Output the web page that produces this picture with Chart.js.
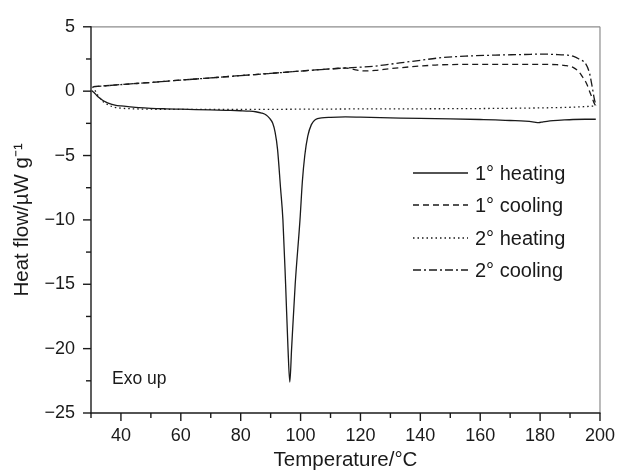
<!DOCTYPE html>
<html>
<head>
<meta charset="utf-8">
<script src="https://cdn.jsdelivr.net/npm/chart.js@4/dist/chart.umd.min.js"></script>
<style>
html,body{margin:0;padding:0;background:#fff;}
#wrap{width:627px;height:473px;position:relative;}
</style>
</head>
<body>
<div id="wrap"><canvas id="c" width="627" height="473"></canvas></div>
<script>
// ---- data ----
const xTicks = [30,40,50,60,70,80,90,100,110,120,130,140,150,160,170,180,190,200];
const yTicks = [5,0,-5,-10,-15,-20,-25];
const seriesNames = ['1° heating','1° cooling','2° heating','2° cooling'];

const heat1T = [30.2,31,32,33,34,35,36,38,40,43,46,50,55,60,65,70,75,80,83,85,87,88.5,89.6,90.7,91.5,92.3,93.3,94.1,95,95.8,96.4,97,98.2,99.8,100.6,101.4,102.4,103.6,105,107,110,115,120,130,140,150,160,165,170,175,178,179.5,181,183.3,187,191,195,198.6];
const heat1V = [0.05,-0.1,-0.35,-0.55,-0.72,-0.85,-0.95,-1.08,-1.15,-1.22,-1.28,-1.33,-1.37,-1.4,-1.43,-1.46,-1.49,-1.52,-1.55,-1.6,-1.7,-1.85,-2.1,-2.5,-3.2,-4.5,-7.5,-10,-15,-20,-22.6,-20,-15,-10,-7,-5,-3.5,-2.6,-2.2,-2.08,-2.03,-2.0,-2.02,-2.07,-2.12,-2.15,-2.2,-2.23,-2.28,-2.33,-2.4,-2.45,-2.38,-2.3,-2.25,-2.2,-2.18,-2.18];

const cool1T = [30.8,35,40,50,60,70,80,90,100,110,115,118,121,125,130,140,147,160,170,180,185.5,188,191,193,194.2,195.5,196.5,197.5,198.2,198.8];
const cool1V = [0.35,0.42,0.51,0.68,0.86,1.03,1.21,1.38,1.56,1.73,1.8,1.68,1.57,1.62,1.75,1.95,2.05,2.08,2.08,2.08,2.06,2.0,1.85,1.5,1.1,0.6,0.0,-0.6,-1.0,-1.2];

const heat2T = [30.5,31.5,32.5,34,36,38,40,45,50,60,80,100,120,140,160,180,190,195,198.6];
const heat2V = [0.35,0.0,-0.4,-0.8,-1.1,-1.25,-1.32,-1.38,-1.4,-1.42,-1.42,-1.4,-1.38,-1.37,-1.35,-1.3,-1.25,-1.2,-1.15];

const cool2T = [30.8,35,40,50,60,70,80,90,100,110,115,120,125,130,140,147,155,165,175,180,185,189,191,193,195.3,196.5,197.5,198.2,198.8];
const cool2V = [0.35,0.42,0.51,0.68,0.86,1.03,1.21,1.38,1.56,1.73,1.8,1.86,1.95,2.1,2.4,2.6,2.72,2.8,2.85,2.88,2.85,2.8,2.72,2.5,2.1,1.4,0.2,-0.7,-1.1];

const FONT = "'Liberation Sans', Arial, Helvetica, sans-serif";
const INK = '#1a1a1a';
const dashes = [[], [6,4], [1.5,3], [8,3,2,3]];

function pts(T,V){ return T.map((t,i)=>({x:t,y:V[i]})); }
const seriesData = [pts(heat1T,heat1V), pts(cool1T,cool1V), pts(heat2T,heat2V), pts(cool2T,cool2V)];

const frame = {
  id:'frame',
  afterDraw(chart){
    const {ctx, chartArea:a, scales:{x,y}} = chart;
    ctx.save();
    const line=(x1,y1,x2,y2)=>{ctx.beginPath();ctx.moveTo(x1,y1);ctx.lineTo(x2,y2);ctx.stroke();};
    ctx.setLineDash([]);
    ctx.strokeStyle='#8c8c8c'; ctx.lineWidth=1.2;
    line(a.left,a.top,a.right,a.top);
    line(a.right,a.top,a.right,a.bottom);
    ctx.strokeStyle=INK; ctx.lineWidth=1.4;
    line(a.left,a.top-0.5,a.left,a.bottom+0.5);
    line(a.left-0.5,a.bottom,a.right+0.5,a.bottom);
    x.ticks.forEach(t=>{
      const px=x.getPixelForValue(t.value);
      const major = t.value%20===0;
      line(px,a.bottom,px,a.bottom+(major?8:5));
    });
    y.ticks.forEach(t=>{
      const py=y.getPixelForValue(t.value);
      const major = Math.abs(t.value%5)<1e-9;
      line(a.left,py,a.left-(major?8:5),py);
    });
    // legend
    ctx.font = '20px '+FONT;
    ctx.fillStyle = INK;
    ctx.textBaseline='middle';
    ctx.textAlign='left';
    const rows=[173,205,238,270];
    seriesNames.forEach((n,i)=>{
      ctx.lineWidth=1.3;
      ctx.strokeStyle=INK;
      ctx.setLineDash(dashes[i]);
      line(413,rows[i],468,rows[i]);
      ctx.setLineDash([]);
      ctx.fillText(n,475,rows[i]+1);
    });
    ctx.font='17.5px '+FONT;
    ctx.fillText('Exo up',112,379);
    ctx.restore();
  }
};

new Chart(document.getElementById('c'),{
  type:'line',
  data:{
    datasets: seriesNames.map((n,i)=>({
      label:n,
      data:seriesData[i],
      borderColor:INK,
      borderWidth:1.3,
      borderDash:dashes[i],
      pointRadius:0,
      fill:false,
      cubicInterpolationMode:'monotone'
    }))
  },
  options:{
    responsive:false,
    animation:false,
    parsing:true,
    layout:{padding:{left:0,top:22,right:16,bottom:0}},
    plugins:{legend:{display:false},tooltip:{enabled:false}},
    scales:{
      x:{
        type:'linear', min:30, max:200,
        afterBuildTicks(s){ s.ticks = xTicks.map(v=>({value:v})); },
        afterFit(s){ s.height=60; },
        grid:{display:false, drawTicks:false},
        border:{display:false},
        ticks:{
          autoSkip:false, maxRotation:0, padding:12,
          color:INK, font:{family:FONT,size:18},
          callback:(v)=> (v%20===0 ? String(v) : '')
        },
        title:{display:true,text:'Temperature/°C',color:INK,font:{family:FONT,size:20.5},padding:{top:0,bottom:0}}
      },
      y:{
        type:'linear', min:-25, max:5,
        afterBuildTicks(s){
          const arr=[]; for(let i=0;i<yTicks.length;i++){ arr.push({value:yTicks[i]}); if(i<yTicks.length-1) arr.push({value:yTicks[i]-2.5}); }
          s.ticks = arr;
        },
        afterFit(s){ s.width=91; },
        grid:{display:false, drawTicks:false},
        border:{display:false},
        ticks:{
          autoSkip:false, padding:16,
          color:INK, font:{family:FONT,size:18},
          callback:(v)=> (Math.abs(v%5)<1e-9 ? (v<0 ? '\u2212'+Math.abs(v) : String(v)) : '')
        },
        title:{display:true,text:'Heat flow/\u00b5W g\u207b\u00b9',color:INK,font:{family:FONT,size:20.5},padding:{top:10,bottom:0}}
      }
    }
  },
  plugins:[frame]
});
</script>
</body>
</html>
